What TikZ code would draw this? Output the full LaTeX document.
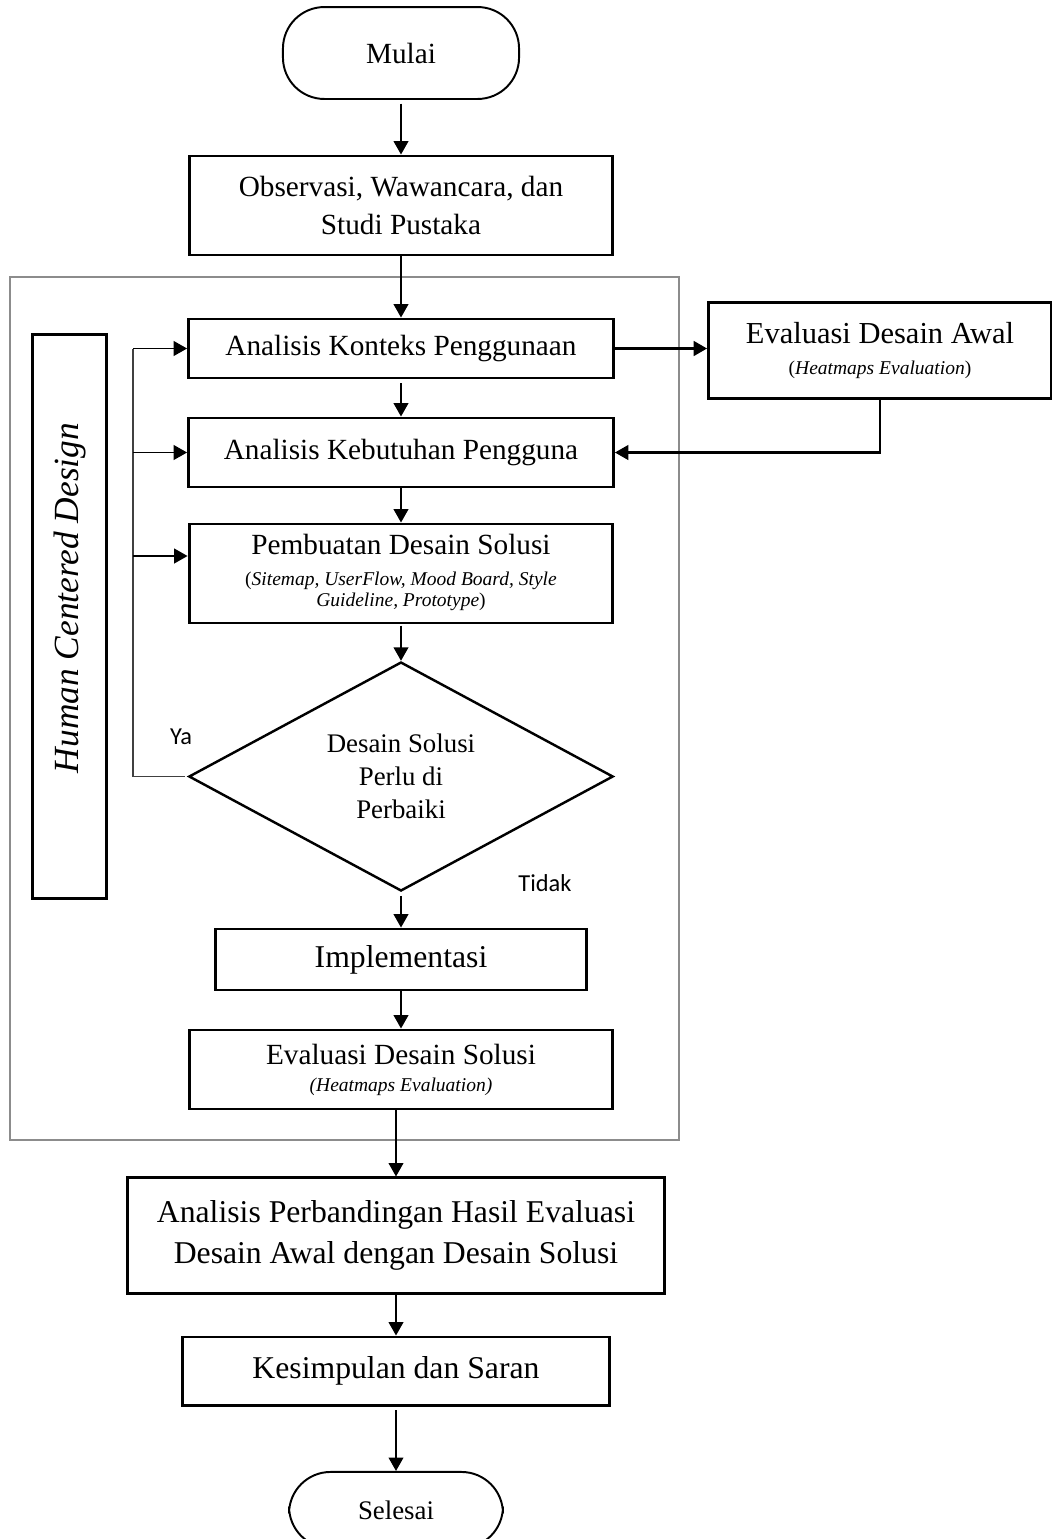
\documentclass[tikz,border=0pt]{standalone}
\usepackage{fontspec}
\setmainfont{Liberation Serif}
\newfontfamily\calibri{Carlito}
\usetikzlibrary{arrows.meta,shapes.geometric}

\tikzset{
	box/.style={draw, line width=1.2pt, inner sep=0pt, align=center, font=\fontsize{12}{15}\selectfont},
	term/.style={box, line width=0.8pt, rounded corners=17pt},
	arr/.style={-{Triangle[length=5.5pt,width=6pt]}, line width=0.8pt, shorten <=1.5pt},
	yaline/.style={line width=0.6pt, draw=black!75},
	note/.style={font=\calibri\fontsize{10}{12}\selectfont},
}

\begin{document}
\begin{tikzpicture}[x=0.41pt, y=-0.41pt]
		%%%%% START %%%%%
		\clip (0,0) rectangle (1052,1539);
		
		\draw[line width=1.1pt, color=black!45] (10,277) rectangle (679,1140);
		
		\node[term, minimum width=96.8pt, minimum height=37.7pt] (mulai) at (401,53) {Mulai};
		\node[box, minimum width=173.8pt, minimum height=40.6pt, font=\fontsize{12}{15.6}\selectfont] (observasi) at (401,205.5)
			{Observasi, Wawancara, dan\\Studi Pustaka};
		
		\node[box, minimum width=174.2pt, minimum height=24.2pt] (konteks) at (401,348.5) {Analisis Konteks Penggunaan};
		\node[box, minimum width=140.6pt, minimum height=39pt, font=\fontsize{12.5}{15}\selectfont] (awal) at (880,350.5)
			{Evaluasi Desain Awal\\[-2.5pt]\fontsize{8}{10}\selectfont(\textit{Heatmaps Evaluation})};
		\node[box, minimum width=174.2pt, minimum height=28.3pt] (kebutuhan) at (401,452.5) {Analisis Kebutuhan Pengguna};
		\node[box, minimum width=173.8pt, minimum height=40.6pt] (pembuatan) at (401,573.5)
			{Pembuatan Desain Solusi\\[2pt]{\fontsize{8}{8.6}\selectfont\begin{tabular}{@{}c@{}}(\textit{Sitemap, UserFlow, Mood Board, Style}\\\textit{Guideline, Prototype})\end{tabular}}};
		\node[draw, diamond, aspect=1.86, line width=1pt, minimum width=174pt, minimum height=93.9pt, inner sep=0pt,
			align=center, font=\fontsize{11}{13.5}\selectfont] (cek) at (401,776.5) {Desain Solusi\\Perlu di\\Perbaiki};
		
		\node[box, minimum width=30.7pt, minimum height=231.6pt] (hcd) at (69.5,616.5) {};
		\node[rotate=90, font=\fontsize{14.5}{16}\selectfont\itshape] (hcdteks) at (69.5,598) {Human Centered Design};
		
		\node[note] (ya) at (181,737) {Ya};
		\node[note] (tidak) at (545,883) {Tidak};
		
		\node[box, minimum width=152pt, minimum height=25pt, font=\fontsize{13}{15}\selectfont] (implementasi) at (401,959.5) {Implementasi};
		\node[box, minimum width=173.4pt, minimum height=32.4pt] (solusi) at (401,1069.5)
			{Evaluasi Desain Solusi\\[-4pt]\fontsize{8}{10}\selectfont\textit{(Heatmaps Evaluation)}};
		
		\node[box, minimum width=219.8pt, minimum height=47.2pt, font=\fontsize{13}{16.8}\selectfont] (perbandingan) at (396,1235.5)
			{Analisis Perbandingan Hasil Evaluasi\\Desain Awal dengan Desain Solusi};
		\node[box, minimum width=174.7pt, minimum height=27.9pt, font=\fontsize{13}{15}\selectfont] (kesimpulan) at (396,1371) {Kesimpulan dan Saran};
		\node[term, minimum width=87.7pt, minimum height=31.2pt, font=\fontsize{11}{13}\selectfont] (selesai) at (396,1510) {Selesai};
		
		\draw[arr] (mulai) -- (observasi);
		\draw[arr, shorten <=0pt] (observasi) -- (konteks);
		\draw[arr] (konteks) -- (kebutuhan);
		\draw[arr, line width=1.1pt, shorten <=0pt] (konteks.east) -- (konteks.east -| awal.west);
		\draw[arr, line width=0.9pt, shorten <=0pt] (awal.south) |- (kebutuhan.east);
		\draw[arr, shorten <=0pt] (kebutuhan) -- (pembuatan);
		\draw[arr, shorten <=0.5pt] (pembuatan) -- (cek);
		
		\coordinate (balik) at (133,776.5);
		\draw[yaline] ([xshift=-1pt]cek.west) -- (balik) -- (balik |- konteks.west);
		\draw[arr, shorten <=0pt] (balik |- konteks.west) -- (konteks.west);
		\draw[arr, shorten <=0pt] (balik |- kebutuhan.west) -- (kebutuhan.west);
		\draw[arr, shorten <=0pt] (balik |- 0,556) -- (pembuatan.west |- 0,556);
		
		\draw[arr] (cek.south) -- (implementasi);
		\draw[arr, shorten <=0pt] (implementasi) -- (solusi);
		\draw[arr, shorten <=0pt] (solusi.south -| perbandingan.north) -- (perbandingan.north);
		\draw[arr, shorten <=0pt] (perbandingan) -- (kesimpulan);
		\draw[arr] (kesimpulan) -- (selesai);
		
		%%%%% END %%%%%
	\end{tikzpicture}
\end{document}
